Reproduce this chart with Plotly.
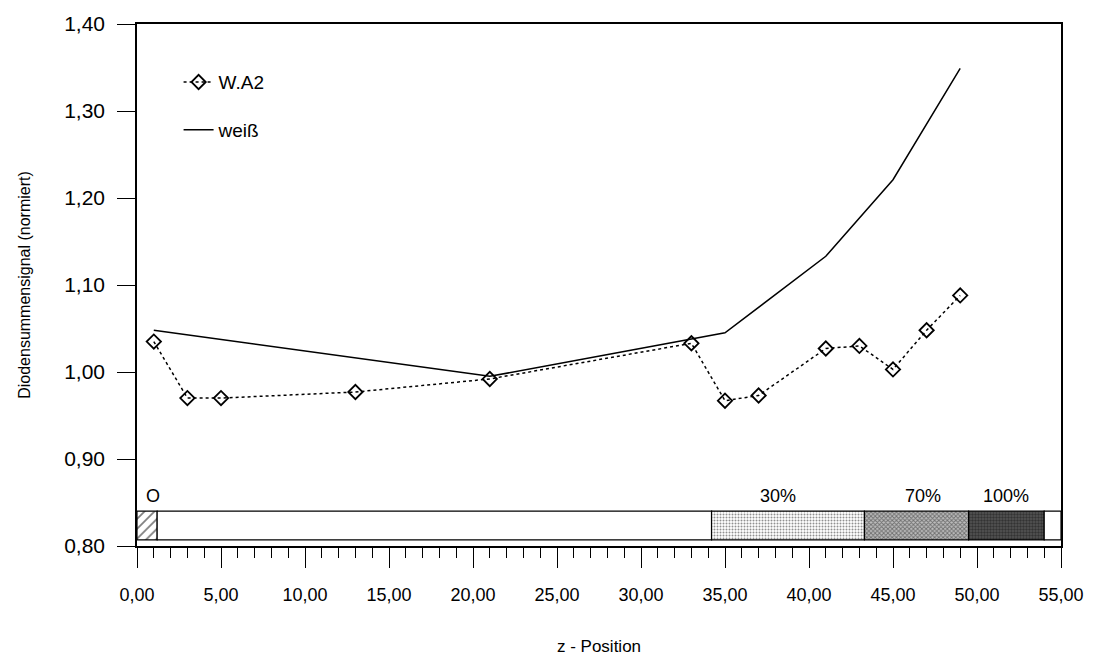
import plotly.graph_objects as go

# --- data ---
wa2_z = [1, 3, 5, 13, 21, 33, 35, 37, 41, 43, 45, 47, 49]
wa2_v = [1.035, 0.970, 0.970, 0.977, 0.992, 1.033, 0.967, 0.973, 1.027, 1.030, 1.003, 1.048, 1.088]

weiss_z = [1, 21, 35, 41, 45, 49]
weiss_v = [1.048, 0.995, 1.045, 1.133, 1.221, 1.349]

# reference band (segments along z)
seg_start = [0.0, 1.2, 34.2, 43.3, 49.5, 54.0]
seg_end = [1.2, 34.2, 43.3, 49.5, 54.0, 55.0]
seg_label = ["O", "", "30%", "70%", "100%", ""]
band_low, band_high = 0.807, 0.840

x_ticks = [0, 5, 10, 15, 20, 25, 30, 35, 40, 45, 50, 55]
y_ticks = [0.8, 0.9, 1.0, 1.1, 1.2, 1.3, 1.4]

FONT = "Liberation Sans"

fig = go.Figure()

patterns = [
    dict(shape="/", fgcolor="black", bgcolor="white", size=7, solidity=0.25),
    dict(shape="", bgcolor="white"),
    dict(shape=".", fgcolor="#222", bgcolor="white", size=3, solidity=0.35),
    dict(shape="x", fgcolor="#222", bgcolor="#bbb", size=3, solidity=0.5),
    dict(shape=".", fgcolor="#111", bgcolor="#555", size=3, solidity=0.5),
    dict(shape="", bgcolor="white"),
]
fills = ["white", "white", "white", "#bbb", "#555", "white"]
label_shift = [6, 0, -10, 6, 0, 0]

band_mid = (band_low + band_high) / 2
band_w = band_high - band_low
for i in range(len(seg_start)):
    fig.add_trace(go.Bar(
        orientation="h",
        y=[band_mid],
        x=[seg_end[i] - seg_start[i]],
        base=[seg_start[i]],
        width=[band_w],
        marker=dict(color=fills[i], line=dict(color="black", width=1.2),
                    pattern=patterns[i]),
        showlegend=False,
        hoverinfo="skip",
    ))
    if seg_label[i]:
        fig.add_annotation(
            x=(seg_start[i] + seg_end[i]) / 2, y=band_high,
            text=seg_label[i], showarrow=False, yanchor="bottom", yshift=3,
            xshift=label_shift[i],
            font=dict(family=FONT, size=18, color="black"),
        )

fig.add_trace(go.Scatter(
    x=wa2_z, y=wa2_v, mode="lines+markers", name="W.A2",
    line=dict(color="black", width=1.5, dash="dot"),
    marker=dict(symbol="diamond-open", size=11, color="black",
                line=dict(color="black", width=1.8)),
    legendgroup="a",
))
fig.add_trace(go.Scatter(
    x=weiss_z, y=weiss_v, mode="lines", name="weiß",
    line=dict(color="black", width=1.5),
    legendgroup="b",
))

fig.update_layout(
    width=1096, height=665,
    margin=dict(l=137, r=29, t=18, b=116),
    paper_bgcolor="white", plot_bgcolor="white",
    separators=",.",
    barmode="overlay",
    font=dict(family=FONT, size=17, color="black"),
    legend=dict(x=0.045, y=0.925, xanchor="left", yanchor="top",
                bgcolor="rgba(0,0,0,0)", borderwidth=0,
                font=dict(family=FONT, size=19),
                itemwidth=30, tracegroupgap=20, traceorder="grouped"),
    xaxis=dict(
        range=[0, 55], tickvals=x_ticks, tickformat=".2f",
        showgrid=False, zeroline=False,
        showline=True, linecolor="black", linewidth=1.5, mirror=True,
        ticks="outside", ticklen=20, tickwidth=1.3, tickcolor="black",
        ticklabelstandoff=12,
        minor=dict(dtick=1, tick0=0, ticks="outside", ticklen=10,
                   tickwidth=1.2, tickcolor="black", showgrid=False),
        tickfont=dict(family=FONT, size=18),
        title=dict(text="z - Position", font=dict(family=FONT, size=17), standoff=36),
    ),
    yaxis=dict(
        range=[0.8, 1.4], tickvals=y_ticks, tickformat=".2f",
        showgrid=False, zeroline=False,
        showline=True, linecolor="black", linewidth=1.5, mirror=True,
        ticks="outside", ticklen=18, tickwidth=1.3, tickcolor="black",
        ticklabelstandoff=8,
        tickfont=dict(family=FONT, size=21),
        title=dict(text="Diodensummensignal (normiert)", font=dict(family=FONT, size=16), standoff=30),
    ),
)

fig.write_html("out.html")
